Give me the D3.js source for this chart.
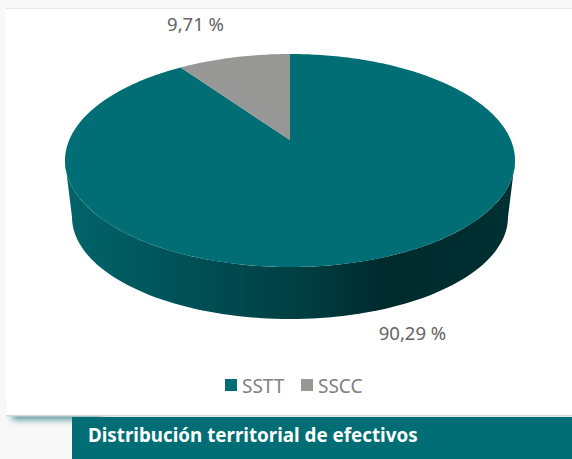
<!DOCTYPE html>
<html><head><meta charset="utf-8">
<script src="https://cdn.jsdelivr.net/npm/d3@7"></script>
<style>html,body{margin:0;padding:0;background:#f8f8f8;overflow:hidden}svg{display:block}</style>
</head><body><div id="c"></div>
<script>
const categories = ["SSTT", "SSCC"];
const values = [90.29, 9.71];
const valueLabels = ["90,29 %", "9,71 %"];
const colors = ["#006e74", "#979796"];
const title = "Distribución territorial de efectivos";
const font = "'Noto Sans', sans-serif";

const W = 572, H = 459;
const svg = d3.select("#c").append("svg").attr("width", W).attr("height", H);
const defs = svg.append("defs");

// card + shadow
const blur = defs.append("filter").attr("id", "sh").attr("x", "-20%").attr("y", "-50%").attr("width", "140%").attr("height", "200%");
blur.append("feGaussianBlur").attr("stdDeviation", 3);
svg.append("rect").attr("x", 12).attr("y", 405).attr("width", 90).attr("height", 15)
  .attr("fill", "#5f9ea3").attr("filter", "url(#sh)");
svg.append("rect").attr("x", 6).attr("y", 8).attr("width", 566).attr("height", 1.5).attr("fill", "#e6e6e6");
svg.append("rect").attr("x", 6).attr("y", 9).attr("width", 566).attr("height", 406).attr("fill", "#fff");
svg.append("rect").attr("x", 6).attr("y", 415).attr("width", 566).attr("height", 1.5).attr("fill", "#d4d8d8");

// geometry of the tilted disc
const sx = d3.scaleLinear().domain([-1, 1]).range([65, 515]);
const sy = d3.scaleLinear().domain([-1, 1]).range([54, 267]);
const sxB = d3.scaleLinear().domain([-1, 1]).range([72, 508]);
const syB = d3.scaleLinear().domain([-1, 1]).range([115, 319]);
const c = -0.192; // perspective shift of the pie apex
const proj = (u, v) => {
  const d = 1 + c * v;
  return [sx(u * Math.sqrt(1 - c * c) / d), sy((v + c) / d)];
};
const rim = a => proj(Math.sin(a), -Math.cos(a));

const pie = d3.pie().sort(null).startAngle(0).endAngle(2 * Math.PI);
const arcs = pie(values);
const line = d3.line();

// side wall
const grad = defs.append("linearGradient").attr("id", "side").attr("gradientUnits", "userSpaceOnUse")
  .attr("x1", 72).attr("x2", 508).attr("y1", 0).attr("y2", 0);
[[0, "#006369"], [0.3, "#004e53"], [0.55, "#003c40"], [0.72, "#002a2c"], [1, "#003032"]]
  .forEach(([o, col]) => grad.append("stop").attr("offset", o).attr("stop-color", col));

const steps = d3.range(0, 181, 2).map(t => t * Math.PI / 180);
const topEdge = steps.map(t => [sx(Math.cos(t)), sy(Math.sin(t))]);
const botEdge = steps.map(t => [sxB(Math.cos(t)), syB(Math.sin(t))]).reverse();
svg.append("path").attr("d", line(topEdge.concat(botEdge)) + "Z").attr("fill", "url(#side)");

// top face
const apex = proj(0, 0);
const g = svg.append("g");
arcs.forEach((a, i) => {
  const n = Math.max(2, Math.ceil((a.endAngle - a.startAngle) * 60));
  const pts = d3.range(n + 1).map(k => rim(a.startAngle + (a.endAngle - a.startAngle) * k / n));
  g.append("path").attr("d", line([apex, ...pts]) + "Z").attr("fill", colors[i]);
});

// value labels
const labelPos = [[412.5, 340], [195.5, 31]];
valueLabels.forEach((t, i) => {
  svg.append("text").attr("x", labelPos[i][0]).attr("y", labelPos[i][1]).attr("text-anchor", "middle")
    .attr("font-family", font).attr("font-size", 18.5).attr("fill", "#636363").text(t);
});

// legend
const legendX = [225, 301];
const legendTextX = [242, 318];
categories.forEach((t, i) => {
  svg.append("rect").attr("x", legendX[i]).attr("y", 379).attr("width", 12).attr("height", 12).attr("fill", colors[i]);
  svg.append("text").attr("x", legendTextX[i]).attr("y", 393)
    .attr("font-family", font).attr("font-size", 19).attr("fill", "#808080").text(t);
});

// title banner
svg.append("rect").attr("x", 72).attr("y", 417).attr("width", 500).attr("height", 42).attr("fill", "#006e74");
svg.append("text").attr("x", 88).attr("y", 442).attr("font-family", font).attr("font-weight", 700)
  .attr("font-size", 18.8).attr("fill", "#fff").text(title);
</script></body></html>
